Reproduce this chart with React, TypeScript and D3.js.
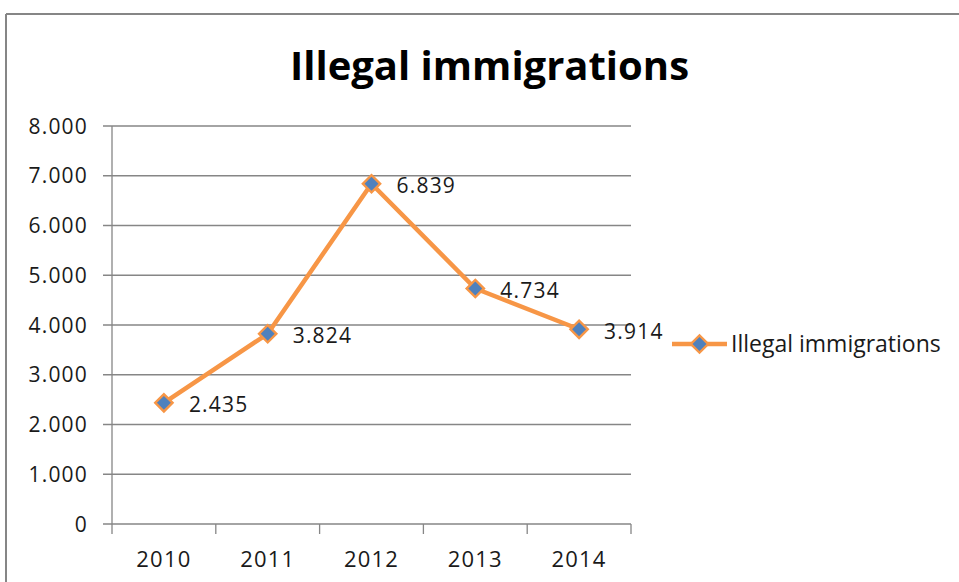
import React from "react";
import * as d3 from "d3";

const years: string[] = ["2010", "2011", "2012", "2013", "2014"];
const values: number[] = [2435, 3824, 6839, 4734, 3914];
const yTicks: number[] = [0, 1000, 2000, 3000, 4000, 5000, 6000, 7000, 8000];
const seriesName = "Illegal immigrations";
const title = "Illegal immigrations";

const W = 959;
const H = 582;
const ORANGE = "#F79646";
const BLUE = "#4F81BD";
const GRID = "#868686";
const FONT = "'Open Sans', 'Noto Sans', sans-serif";

const loc = d3.formatLocale({ thousands: ".", decimal: ",", grouping: [3], currency: ["", ""] });
const fmt = loc.format(",");

export default function App() {
  const plotL = 112, plotR = 631, plotT = 126, plotB = 524;
  const x = d3.scaleBand<string>().domain(years).range([plotL, plotR]).padding(0);
  const y = d3.scaleLinear().domain([0, 8000]).range([plotB, plotT]);
  const cx = (yr: string) => (x(yr) as number) + x.bandwidth() / 2;

  const line = d3
    .line<number>()
    .x((_, i) => cx(years[i]))
    .y((d) => y(d));

  const diamond = d3.symbol().type(d3.symbolSquare).size(150)() as string;

  const boundaries = years.map((yr) => x(yr) as number).concat([plotR]);

  return (
    <svg width={W} height={H} style={{ position: "absolute", left: 0, top: 0, background: "#fff" }}>
      <rect x={0} y={0} width={W} height={H} fill="#fff" />
      {/* chart frame */}
      <line x1={6} y1={14} x2={W} y2={14} stroke={GRID} strokeWidth={2} />
      <line x1={6} y1={14} x2={6} y2={H} stroke={GRID} strokeWidth={2} />

      <text x={489.5} y={80} textAnchor="middle" fontFamily={FONT} fontWeight={700} fontSize={40} fill="#000">
        {title}
      </text>

      {/* gridlines & y ticks */}
      {yTicks.map((t) => (
        <g key={t}>
          <line x1={plotL - 9} x2={plotR} y1={y(t)} y2={y(t)} stroke={GRID} strokeWidth={1.3} />
          <text x={88} y={y(t)} dy="0.36em" textAnchor="end" fontFamily={FONT} fontSize={21} letterSpacing={1.2} fill="#1a1a1a">
            {fmt(t)}
          </text>
        </g>
      ))}
      {/* y axis */}
      <line x1={plotL} x2={plotL} y1={plotT} y2={plotB} stroke={GRID} strokeWidth={1.3} />
      {/* x ticks */}
      {boundaries.map((b, i) => (
        <line key={i} x1={b} x2={b} y1={plotB} y2={plotB + 10} stroke={GRID} strokeWidth={1.3} />
      ))}
      {years.map((yr) => (
        <text key={yr} x={cx(yr)} y={567} textAnchor="middle" fontFamily={FONT} fontSize={22} letterSpacing={1.2} fill="#1a1a1a">
          {yr}
        </text>
      ))}

      {/* series */}
      <path d={line(values) as string} fill="none" stroke={ORANGE} strokeWidth={4.5} strokeLinejoin="round" />
      {values.map((v, i) => (
        <path
          key={i}
          d={diamond}
          transform={`translate(${cx(years[i])},${y(v)}) rotate(45)`}
          fill={BLUE}
          stroke={ORANGE}
          strokeWidth={2.4}
        />
      ))}
      {values.map((v, i) => (
        <text
          key={"l" + i}
          x={cx(years[i]) + 25}
          y={y(v) + 2}
          dy="0.36em"
          fontFamily={FONT}
          fontSize={21}
          letterSpacing={1.2}
          fill="#1a1a1a"
        >
          {fmt(v)}
        </text>
      ))}

      {/* legend */}
      <line x1={672} x2={727} y1={344} y2={344} stroke={ORANGE} strokeWidth={4.5} />
      <path d={diamond} transform="translate(699.5,344) rotate(45)" fill={BLUE} stroke={ORANGE} strokeWidth={2.4} />
      <text x={731} y={352} fontFamily={FONT} fontSize={23} fill="#1a1a1a">
        {seriesName}
      </text>
    </svg>
  );
}
